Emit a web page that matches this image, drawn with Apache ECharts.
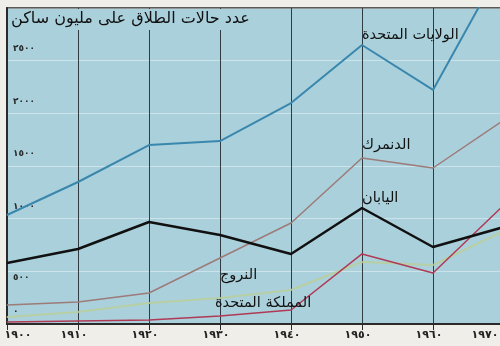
<!DOCTYPE html>
<html>
<head>
<meta charset="utf-8">
<script src="https://cdn.jsdelivr.net/npm/echarts@6/dist/echarts.min.js"></script>
<style>
  html, body { margin: 0; padding: 0; background: #efeee8; }
  #chart { width: 500px; height: 346px; }
</style>
</head>
<body>
<div id="chart"></div>
<script>
// Divorces per million inhabitants, by decade
const years = [1900, 1910, 1920, 1930, 1940, 1950, 1960, 1970];
const usa     = [1035, 1348, 1699, 1737, 2098, 2649, 2222, 3440];
const denmark = [180, 209, 294, 627, 959, 1576, 1481, 1937];
const japan   = [579, 712, 968, 845, 665, 1101, 731, 921];
const norway  = [66, 114, 199, 247, 323, 589, 560, 883];
const uk      = [19, 28, 38, 76, 133, 665, 484, 1130];

const yTicks = [0, 500, 1000, 1500, 2000, 2500];
const arabicDigits = '٠١٢٣٤٥٦٧٨٩';
const toArabic = n => String(n).replace(/\d/g, d => arabicDigits[d]);

const FONT = 'DejaVu Sans';
const PLOT_BG = '#aad0dc';

function seriesData(values, labelIdx, labelText, offset) {
  return years.map((yr, i) => {
    if (i !== labelIdx) return [yr, values[i]];
    return {
      value: [yr, values[i]],
      label: {
        show: true,
        formatter: labelText,
        position: 'top',
        distance: 0,
        align: 'left',
        verticalAlign: 'bottom',
        offset: offset,
        fontFamily: FONT,
        fontSize: 14.5,
        color: '#111'
      }
    };
  });
}

function line(name, values, color, width, labelIdx, labelText, offset, z) {
  return {
    name: name,
    type: 'line',
    symbol: 'circle',
    symbolSize: 1,
    showSymbol: true,
    z: z,
    itemStyle: { color: color },
    lineStyle: { color: color, width: width },
    data: seriesData(values, labelIdx, labelText, offset)
  };
}

const xLabelStyle = { fontFamily: FONT, fontSize: 11, fontWeight: 'bold', color: '#222' };

const chart = echarts.init(document.getElementById('chart'), null, { renderer: 'canvas' });
chart.setOption({
  animation: false,
  backgroundColor: '#efeee8',
  title: {
    text: 'عدد حالات الطلاق على مليون ساكن',
    left: 8,
    top: 9,
    padding: [2, 3, 3, 3],
    backgroundColor: PLOT_BG,
    textStyle: { fontFamily: FONT, fontSize: 16, fontWeight: 'normal', color: '#111' }
  },
  grid: {
    left: 7, top: 8, bottom: 22, width: 497,
    containLabel: false,
    outerBoundsMode: 'none',
    show: true,
    backgroundColor: PLOT_BG,
    borderColor: '#2a2a2a',
    borderWidth: 1.5
  },
  xAxis: {
    type: 'value',
    min: 1900, max: 1970, interval: 10,
    axisLine: { show: true, lineStyle: { color: '#2a2a2a', width: 2 } },
    axisTick: { show: true, length: 6, lineStyle: { color: '#2a2a2a', width: 1 } },
    splitLine: { show: true, lineStyle: { color: '#2f3b40', width: 1 } },
    axisLabel: {
      margin: 6,
      formatter: v => {
        const key = v === 1900 ? 'first' : (v === 1970 ? 'last' : 'mid');
        return '{' + key + '|' + toArabic(v) + '}';
      },
      rich: {
        first: Object.assign({ padding: [0, 0, 0, 22] }, xLabelStyle),
        mid:   Object.assign({ padding: [0, 8, 0, 0] }, xLabelStyle),
        last:  Object.assign({ padding: [0, 38, 0, 0] }, xLabelStyle)
      }
    }
  },
  yAxis: {
    type: 'value',
    min: 0, max: 3000, interval: 500,
    axisLine: { show: true, lineStyle: { color: '#2a2a2a', width: 2 } },
    axisTick: { show: false },
    splitLine: { show: true, lineStyle: { color: 'rgba(255,255,255,0.4)', width: 1 } },
    axisLabel: {
      inside: true,
      margin: 6,
      verticalAlign: 'middle',
      formatter: v => {
        if (yTicks.indexOf(v) < 0) return '';
        return (v === 500 ? '{low|' : '{up|') + toArabic(v) + '}';
      },
      rich: {
        up:  { fontFamily: FONT, fontSize: 9, fontWeight: 'bold', color: '#2a2a2a', padding: [0, 0, 24, 0] },
        low: { fontFamily: FONT, fontSize: 9, fontWeight: 'bold', color: '#2a2a2a', padding: [13, 0, 0, 0] }
      }
    }
  },
  series: [
    line('norway', norway, 'rgba(188,206,150,0.8)', 2, 3, 'النروج', [0, -15], 3),
    line('uk', uk, '#b03a55', 1.5, 3, 'المملكة المتحدة', [-5, -5], 4),
    line('denmark', denmark, '#9c7b78', 1.5, 5, 'الدنمرك', [0, -5], 4),
    line('usa', usa, '#3a87ad', 2, 5, 'الولايات المتحدة', [0, -2], 5),
    line('japan', japan, '#111111', 2.5, 5, 'اليابان', [0, -2], 6)
  ]
});
</script>
</body>
</html>
